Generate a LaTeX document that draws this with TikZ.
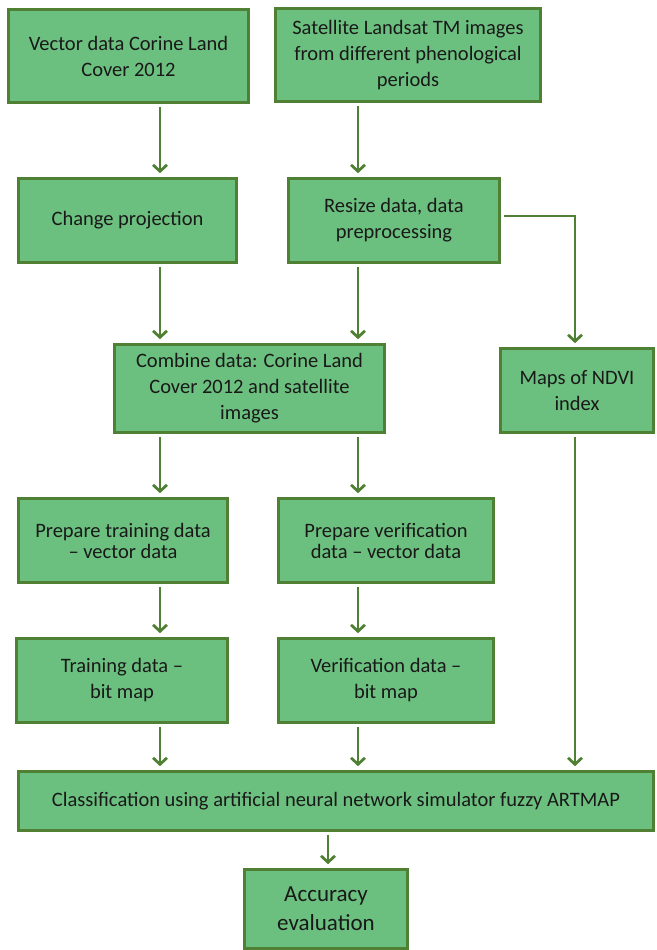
\documentclass[tikz,border=0pt]{standalone}
\usepackage{fontspec}
\setmainfont{Carlito}
\usepackage{xcolor}
\usepackage{tikz}
\usetikzlibrary{arrows.meta}

\definecolor{boxfill}{RGB}{108,192,127}
\definecolor{boxline}{RGB}{80,128,52}

\begin{document}
\begin{tikzpicture}[
    x=1pt, y=-1pt,
    box/.style={draw=boxline, fill=boxfill, line width=2.6pt, rectangle,
                align=center, inner sep=0pt, text=black!90,
                font=\fontsize{20.5}{26}\selectfont},
    arr/.style={draw=boxline, line width=2.8pt,
                -{Straight Barb[length=6.5pt, width=14pt]},
                shorten <=3pt, shorten >=4pt}
]
    \useasboundingbox (0,0) rectangle (656,950);

    \coordinate (colL) at (160,0);
    \coordinate (colM) at (358,0);
    \coordinate (colR) at (575,0);
    \coordinate (colB) at (328,0);

    \node[box, minimum width=240, minimum height=93] (vector) at (128.5,56)
        {Vector data Corine Land\\Cover 2012};

    \node[box, minimum width=265, minimum height=93] (landsat) at (408,55)
        {Satellite Landsat TM images\\from different phenological\\periods};

    \node[box, minimum width=218, minimum height=84] (project) at (127.5,220.5)
        {Change projection};

    \node[box, minimum width=211, minimum height=84] (resize) at (394,220.5)
        {Resize data, data\\preprocessing};

    \node[box, minimum width=270, minimum height=88] (combine) at (249.5,388.5)
        {Combine data: Corine Land\\Cover 2012 and satellite\\images};

    \node[box, minimum width=153, minimum height=84] (ndvi) at (577,390.5)
        {Maps of NDVI\\index};

    \node[box, minimum width=209, minimum height=84,
          font=\fontsize{20.5}{21}\selectfont] (preptrain) at (123,540.5)
        {Prepare training data\\– vector data};

    \node[box, minimum width=215, minimum height=84,
          font=\fontsize{20.5}{21}\selectfont] (prepverif) at (386,540.5)
        {Prepare verification\\data – vector data};

    \node[box, minimum width=211, minimum height=84] (bittrain) at (122,680.5)
        {Training data –\\bit map};

    \node[box, minimum width=215, minimum height=84] (bitverif) at (386,680.5)
        {Verification data –\\bit map};

    \node[box, minimum width=635, minimum height=59] (classify) at (336,801)
        {Classification using artificial neural network simulator fuzzy ARTMAP};

    \node[box, minimum width=163, minimum height=79,
          font=\fontsize{23}{29}\selectfont] (accuracy) at (326,909)
        {Accuracy\\evaluation};

    \draw[arr] (vector.south -| colL) -- (project.north -| colL);
    \draw[arr] (landsat.south -| colM) -- (resize.north -| colM);
    \draw[arr] (project.south -| colL) -- (combine.north -| colL);
    \draw[arr] (resize.south -| colM) -- (combine.north -| colM);
    \draw[arr] ([yshift=4.5pt]resize.east) -| (ndvi.north -| colR);
    \draw[arr] (combine.south -| colL) -- (preptrain.north -| colL);
    \draw[arr] (combine.south -| colM) -- (prepverif.north -| colM);
    \draw[arr] (preptrain.south -| colL) -- (bittrain.north -| colL);
    \draw[arr] (prepverif.south -| colM) -- (bitverif.north -| colM);
    \draw[arr] (bittrain.south -| colL) -- (classify.north -| colL);
    \draw[arr] (bitverif.south -| colM) -- (classify.north -| colM);
    \draw[arr] (ndvi.south -| colR) -- (classify.north -| colR);
    \draw[arr] (classify.south -| colB) -- (accuracy.north -| colB);
\end{tikzpicture}
\end{document}
